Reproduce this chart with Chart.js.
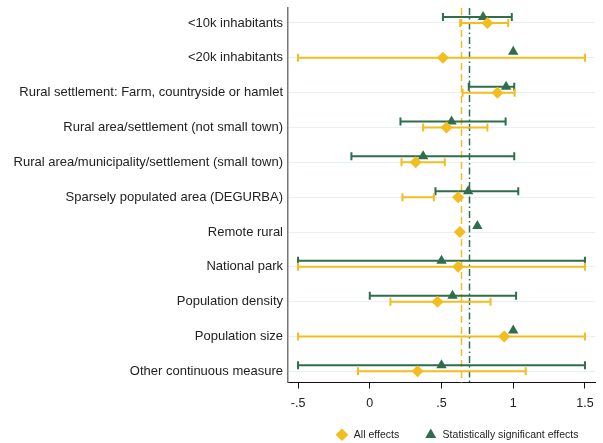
<!DOCTYPE html>
<html>
<head>
<meta charset="utf-8">
<script src="https://cdn.jsdelivr.net/npm/chart.js@4/dist/chart.umd.min.js"></script>
<style>
  html, body { margin: 0; padding: 0; background: #fff; }
  #wrap { width: 603px; height: 443px; }
</style>
</head>
<body>
<div id="wrap"><canvas id="forest"></canvas></div>
<script>
const categories = [
  '<10k inhabitants',
  '<20k inhabitants',
  'Rural settlement: Farm, countryside or hamlet',
  'Rural area/settlement (not small town)',
  'Rural area/municipality/settlement (small town)',
  'Sparsely populated area (DEGURBA)',
  'Remote rural',
  'National park',
  'Population density',
  'Population size',
  'Other continuous measure'
];

// all effects (yellow diamonds)
const all_est = [0.82, 0.51, 0.89, 0.535, 0.32, 0.616, 0.628, 0.616, 0.472, 0.937, 0.333];
const all_lo  = [0.63, -0.5, 0.647, 0.372, 0.221, 0.228, null, -0.5, 0.144, -0.5, -0.082];
const all_hi  = [0.965, 1.5, 1.01, 0.82, 0.523, 0.447, null, 1.5, 0.842, 1.5, 1.087];

// statistically significant effects (green triangles)
const sig_est = [0.79, 1.0, 0.95, 0.57, 0.372, 0.686, 0.75, 0.50, 0.577, 1.0, 0.50];
const sig_lo  = [0.51, null, 0.69, 0.214, -0.128, 0.458, null, -0.5, 0.0, null, -0.5];
const sig_hi  = [0.99, null, 1.007, 0.947, 1.007, 1.035, null, 1.5, 1.02, null, 1.5];

const mean_all = 0.635;
const mean_sig = 0.689;

const x_ticks = [-0.5, 0, 0.5, 1, 1.5];

const YELLOW = '#f3bc1f';
const GREEN = '#2e6e4c';
const FONT = 'Liberation Sans, Arial, sans-serif';

const to_points = (est, lo, hi) => est.map((v, i) => ({ x: v, y: i, lo: lo[i], hi: hi[i] }));

// nudge the significant series a few pixels up, then draw CI bars + mean lines
const forestPlugin = {
  id: 'forest',
  afterLayout(chart) {
    // push the legend a bit lower, like the original
    if (chart.legend) {
      chart.legend.top += 7;
      chart.legend.bottom += 7;
    }
  },
  afterDatasetsUpdate(chart) {
    chart.data.datasets.forEach((ds, di) => {
      const shift = ds.pixelShift || 0;
      chart.getDatasetMeta(di).data.forEach(el => { el.y += shift; });
    });
  },
  beforeDatasetsDraw(chart) {
    const { ctx, chartArea, scales } = chart;
    const xs = scales.x;
    ctx.save();
    // mean lines
    const vlines = [
      { v: mean_all, color: YELLOW, dash: [7, 4] },
      { v: mean_sig, color: GREEN, dash: [7, 3, 1.5, 3] }
    ];
    vlines.forEach(l => {
      const px = Math.round(xs.getPixelForValue(l.v)) + 0.5;
      ctx.beginPath();
      ctx.setLineDash(l.dash);
      ctx.strokeStyle = l.color;
      ctx.lineWidth = 1.5;
      ctx.moveTo(px, chartArea.top);
      ctx.lineTo(px, chartArea.bottom);
      ctx.stroke();
    });
    ctx.setLineDash([]);
    // confidence intervals
    [1, 0].forEach(di => {
      const ds = chart.data.datasets[di];
      const meta = chart.getDatasetMeta(di);
      ctx.strokeStyle = ds.borderColor;
      ctx.lineWidth = 2;
      ds.data.forEach((p, i) => {
        if (p.lo == null || p.hi == null) return;
        const y = meta.data[i].y;
        const x1 = xs.getPixelForValue(p.lo);
        const x2 = xs.getPixelForValue(p.hi);
        ctx.beginPath();
        ctx.moveTo(x1, y); ctx.lineTo(x2, y);
        ctx.moveTo(x1, y - 4); ctx.lineTo(x1, y + 4);
        ctx.moveTo(x2, y - 4); ctx.lineTo(x2, y + 4);
        ctx.stroke();
      });
    });
    ctx.restore();
  }
};

const fmt_tick = v => {
  if (v === 0) return '0';
  return String(v).replace(/^(-?)0\./, '$1.');
};

// legend spacing like the original (wider gaps between entries)
const legend_gap = ['\u2003\u2003\u2009', '\u2003\u2009'];

const config = {
  type: 'scatter',
  data: {
    datasets: [
      {
        label: 'All effects',
        data: to_points(all_est, all_lo, all_hi),
        pointStyle: 'rectRot',
        pointRadius: 6,
        pointHoverRadius: 6,
        backgroundColor: YELLOW,
        borderColor: YELLOW,
        borderWidth: 0,
        pixelShift: 0
      },
      {
        label: 'Statistically significant effects',
        data: to_points(sig_est, sig_lo, sig_hi),
        pointStyle: 'triangle',
        pointRadius: 6,
        pointHoverRadius: 6,
        backgroundColor: GREEN,
        borderColor: GREEN,
        borderWidth: 0,
        pixelShift: -6
      }
    ]
  },
  options: {
    responsive: true,
    maintainAspectRatio: false,
    animation: false,
    layout: {
      padding: { left: 8, right: 8, top: 8, bottom: 0 }
    },
    scales: {
      x: {
        type: 'linear',
        min: -0.57,
        max: 1.57,
        afterBuildTicks: (scale) => {
          scale.ticks = x_ticks.map(v => ({ value: v }));
        },
        ticks: {
          color: '#222',
          font: { family: FONT, size: 12.5 },
          padding: 8,
          maxRotation: 0,
          callback: (v) => fmt_tick(v)
        },
        grid: {
          drawOnChartArea: false,
          drawTicks: true,
          tickLength: 6,
          color: '#111',
          lineWidth: 1
        },
        border: { display: true, color: '#111', width: 1 },
        afterFit: (scale) => { scale.height = 36; }
      },
      y: {
        type: 'linear',
        reverse: true,
        min: -0.43,
        max: 10.32,
        afterBuildTicks: (scale) => {
          scale.ticks = categories.map((c, i) => ({ value: i }));
        },
        ticks: {
          color: '#222',
          font: { family: FONT, size: 13 },
          padding: 5,
          callback: (v) => categories[v]
        },
        grid: {
          drawTicks: false,
          color: '#e7f0f2',
          lineWidth: 1
        },
        border: { display: true, color: '#777', width: 1.5 },
        afterFit: (scale) => {
          scale.width = 280;
          scale.paddingTop = 0;
          scale.paddingBottom = 0;
        }
      }
    },
    plugins: {
      legend: {
        display: true,
        position: 'bottom',
        align: 'end',
        labels: {
          usePointStyle: true,
          boxWidth: 9,
          boxHeight: 9,
          padding: 4,
          color: '#222',
          font: { family: FONT, size: 10.5 },
          generateLabels: (chart) => {
            const items = Chart.defaults.plugins.legend.labels.generateLabels(chart);
            items.forEach((it, i) => { it.text = '\u2009' + it.text + legend_gap[i]; });
            return items;
          }
        }
      },
      tooltip: { enabled: false }
    }
  },
  plugins: [forestPlugin]
};

new Chart(document.getElementById('forest'), config);
</script>
</body>
</html>
